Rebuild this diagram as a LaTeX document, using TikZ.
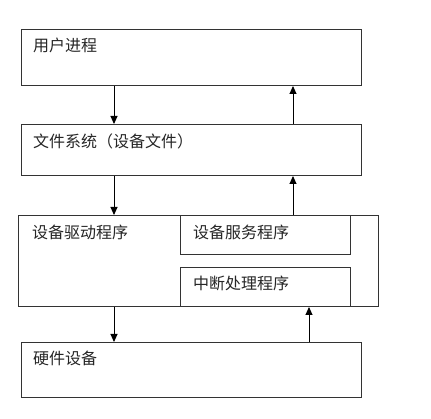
\documentclass[tikz,border=0pt]{standalone}
\usepackage{fontspec}
\setmainfont{Noto Sans CJK SC}
\usetikzlibrary{arrows.meta}
\begin{document}
\begin{tikzpicture}[x=1pt,y=-1pt,
  box/.style={draw=black!80, line width=1pt, inner sep=0pt, anchor=north west},
  lbl/.style={anchor=west, inner sep=0pt, font=\fontsize{16}{18}\selectfont, text=black!85},
  arr/.style={draw=black, line width=0.9pt, -{Triangle[length=8pt,width=7pt]}}]
\useasboundingbox (0,0) rectangle (431,419);
\fill[white] (0,0) rectangle (431,419);
\node[box, minimum width=340pt, minimum height=56pt] (up) at (21,29) {};
\node[box, minimum width=340pt, minimum height=51pt] (fs) at (21,124) {};
\node[box, minimum width=360pt, minimum height=91pt] (dd) at (18,215) {};
\node[box, minimum width=170pt, minimum height=39pt] (svc) at (180,215) {};
\node[box, minimum width=170pt, minimum height=39pt] (isr) at (180,267) {};
\node[box, minimum width=340pt, minimum height=55pt] (hw) at (21,342) {};
\node[lbl] (tup) at (33,45) {用户进程};
\node[lbl] (tfs) at (33,141) {文件系统（设备文件）};
\node[lbl] (tdd) at (32,232) {设备驱动程序};
\node[lbl] (tsvc) at (193,232) {设备服务程序};
\node[lbl] (tisr) at (193,283) {中断处理程序};
\node[lbl] (thw) at (33,358) {硬件设备};
\coordinate (xa) at (114,0);
\coordinate (xb) at (293,0);
\coordinate (xc) at (309,0);
\draw[arr] (up.south -| xa) -- (fs.north -| xa);
\draw[arr] (fs.north -| xb) -- (up.south -| xb);
\draw[arr] (fs.south -| xa) -- (dd.north -| xa);
\draw[arr] (svc.north -| xb) -- (fs.south -| xb);
\draw[arr] (dd.south -| xa) -- (hw.north -| xa);
\draw[arr] (hw.north -| xc) -- (isr.south -| xc);
\end{tikzpicture}
\end{document}
